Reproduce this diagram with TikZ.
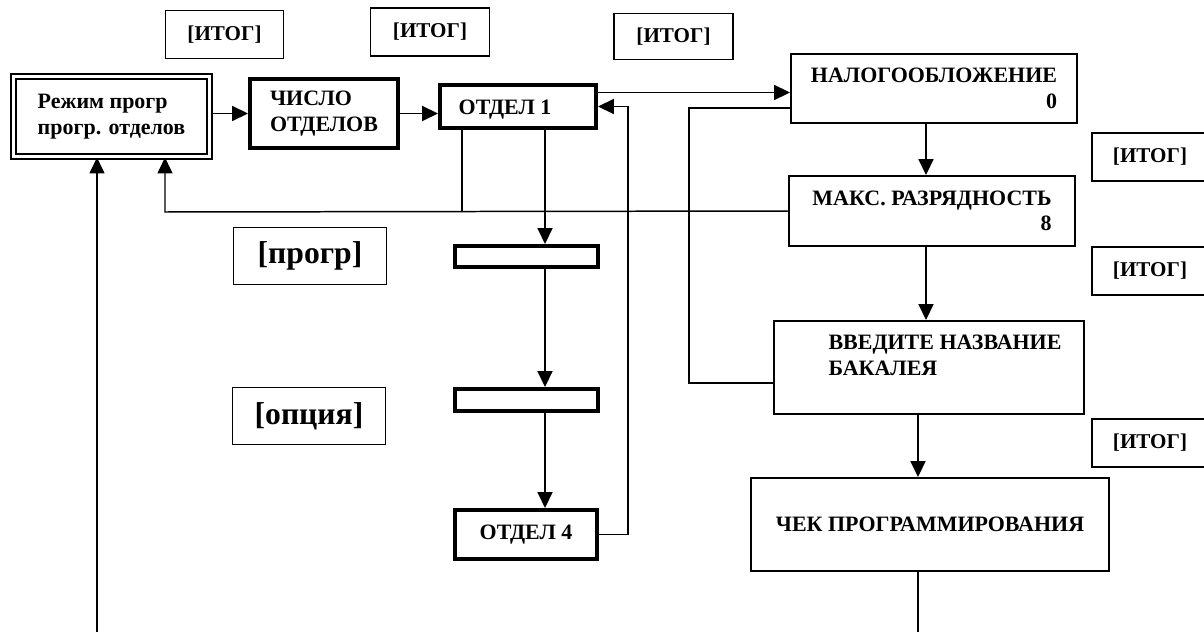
\documentclass[tikz,border=0pt]{standalone}
\usepackage{fontspec}
\setmainfont{Liberation Serif}
\usepackage{tikz}
\usetikzlibrary{arrows.meta, positioning, calc}

\begin{document}
\begin{tikzpicture}[
    x=0.02cm, y=-0.02cm,
    lbl/.style={font=\fontsize{12.5}{14.5}\selectfont\bfseries},
    thinbox/.style={rectangle, draw, line width=0.85pt, inner sep=0pt, lbl},
    thickbox/.style={rectangle, draw, line width=2pt, inner sep=0pt, lbl},
    keybox/.style={rectangle, draw, line width=0.8pt, inner sep=0pt, font=\fontsize{18}{20}\selectfont\bfseries},
    itogbox/.style={rectangle, draw, line width=0.7pt, inner sep=0pt, minimum height=0.96cm, font=\fontsize{12}{14}\selectfont\bfseries},
    arr/.style={-{Triangle[length=9pt,width=8.5pt]}, line width=0.85pt},
    conn/.style={line width=0.85pt}
]
\useasboundingbox (0,0) rectangle (1204,632);
\clip (0,0) rectangle (1204,632);

% top keys
\node[itogbox, minimum width=2.36cm] (itog1) at (224.5,34.5) {[ИТОГ]};
\node[itogbox, minimum width=2.38cm] (itog2) at (430,32) {[ИТОГ]};
\node[itogbox, minimum width=2.38cm, minimum height=0.92cm] (itog3) at (673.5,36.5) {[ИТОГ]};

% left column
\node[thinbox, double, line width=1.2pt, double distance=1.5pt, minimum width=3.92cm, minimum height=1.6cm, align=left] (rezhim) at (111.5,116.5) {Режим прогр\\прогр. отделов};
\node[thickbox, minimum width=2.97cm, minimum height=1.39cm, align=left] (chislo) at (324,113.5) {ЧИСЛО\\ОТДЕЛОВ};
\node[thickbox, minimum width=3.13cm, minimum height=0.87cm] (otdel1) at (518,106.5) {};
\node[lbl] (otdel1t) at (505,110) {ОТДЕЛ 1};

\node[keybox, minimum width=3.05cm, minimum height=1.13cm] (prgkey) at (310,256) {[прогр]};
\node[keybox, minimum width=3.05cm, minimum height=1.13cm] (optkey) at (309,416) {[опция]};

\node[thickbox, minimum width=2.87cm, minimum height=0.43cm] (prog1) at (526.5,256.5) {};
\node[thickbox, minimum width=2.87cm, minimum height=0.45cm] (prog2) at (526.5,400) {};
\node[thickbox, minimum width=2.85cm, minimum height=0.99cm] (otdel4) at (526,534.5) {ОТДЕЛ 4};

% right column
\node[thinbox, minimum width=5.73cm, minimum height=1.39cm, align=right] (nalog) at (934,88.5) {НАЛОГООБЛОЖЕНИЕ\\0};
\node[thinbox, minimum width=5.73cm, minimum height=1.41cm, align=right] (maks) at (932,211) {МАКС. РАЗРЯДНОСТЬ\\8};
\node[thinbox, minimum width=6.21cm, minimum height=1.87cm] (vvod) at (929,367.5) {};
\node[lbl, align=left] (vvodt) at (945,355.5) {ВВЕДИТЕ НАЗВАНИЕ\\БАКАЛЕЯ};
\node[thinbox, minimum width=7.17cm, minimum height=1.87cm] (chek) at (930,524.5) {ЧЕК ПРОГРАММИРОВАНИЯ};

\node[itogbox, minimum width=2.32cm] (itogA) at (1150,157) {[ИТОГ]};
\node[itogbox, minimum width=2.32cm] (itogB) at (1150,271) {[ИТОГ]};
\node[itogbox, minimum width=2.32cm] (itogC) at (1150,443) {[ИТОГ]};

% helper points
\coordinate (col) at (545,0);
\coordinate (rcolA) at (926,0);
\coordinate (rcolB) at (918,0);
\coordinate (ret) at (165,212);
\coordinate (tap) at (462,212);
\coordinate (back) at (689,383);
\coordinate (entry) at (97,632);
\coordinate (exit) at (918,632);

% main chain
\draw[arr] (rezhim.east |- chislo.west) -- (chislo.west);
\draw[arr] (chislo.east) -- (chislo.east -| otdel1.west);
\draw[arr] ($(otdel1.east)+(0,-14)$) coordinate (o1out) -- (o1out -| nalog.west);
\draw[arr] (otdel1.south -| col) -- (prog1.north -| col);
\draw[arr] (prog1.south -| col) -- (prog2.north -| col);
\draw[arr] (prog2.south -| col) -- (otdel4.north -| col);
\draw[arr] (otdel4.east) -- ++(29,0) |- (otdel1.east);

\draw[arr] (nalog.south -| rcolA) -- (maks.north -| rcolA);
\draw[arr] (maks.south -| rcolA) -- (vvod.north -| rcolA);
\draw[arr] (vvod.south -| rcolB) -- (chek.north -| rcolB);
\draw[conn] (chek.south -| rcolB) -- (exit);

% returns
\draw[conn] (back -| vvod.west) -- (back) |- ($(nalog.west)+(0,19.5)$);
\draw[arr] (maks.west) -- (ret) -- (ret |- rezhim.south);
\draw[conn] (otdel1.south -| tap) -- (tap);
\draw[arr] (entry) -- (entry |- rezhim.south);

\end{tikzpicture}
\end{document}
